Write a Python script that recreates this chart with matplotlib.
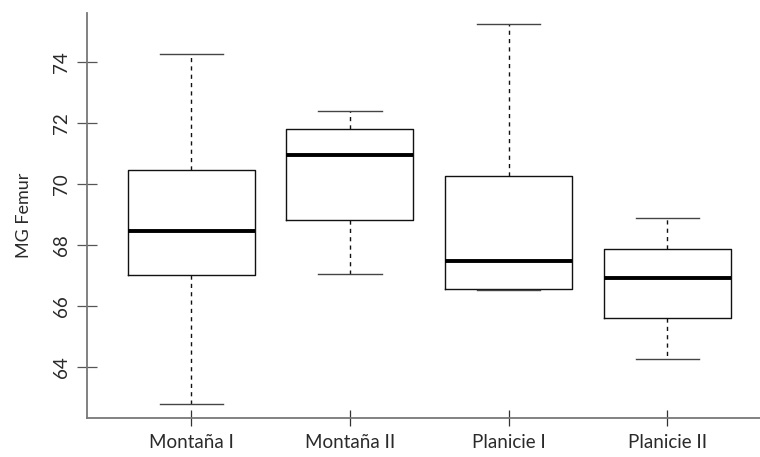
import matplotlib
matplotlib.use("Agg")
import matplotlib.pyplot as plt

plt.rcParams['font.family'] = ['Lato', 'DejaVu Sans']

# Five-number summaries of MG Femur per group
groups = ["Montaña I", "Montaña II", "Planicie I", "Planicie II"]
whisker_low = [62.78, 67.04, 66.51, 64.27]
q1 = [67.01, 68.82, 66.55, 65.60]
median = [68.46, 70.94, 67.48, 66.91]
q3 = [70.46, 71.81, 70.26, 67.88]
whisker_high = [74.24, 72.40, 75.23, 68.89]
y_ticks = [64, 66, 68, 70, 72, 74]

stats = [
    dict(label=g, whislo=lo, q1=a, med=m, q3=b, whishi=hi, fliers=[])
    for g, lo, a, m, b, hi in zip(groups, whisker_low, q1, median, q3, whisker_high)
]

fig = plt.figure(figsize=(7.6, 4.57), dpi=100)
ax = fig.add_axes([86.7 / 760, 39.3 / 457, 685.3 / 760, 404.4 / 457])

positions = list(range(1, len(groups) + 1))
ax.bxp(
    stats,
    positions=positions,
    widths=0.8,
    capwidths=0.4,
    showfliers=False,
    boxprops=dict(color="#111111", linewidth=1.0),
    medianprops=dict(color="#000000", linewidth=2.8, solid_capstyle="butt"),
    whiskerprops=dict(color="#111111", linewidth=1.0, linestyle=(0, (3, 3))),
    capprops=dict(color="#444444", linewidth=1.0),
)

ax.set_xlim(0.341, 4.66)
ax.set_ylim(62.34, 75.585)

ax.set_xticks(positions)
ax.set_xticklabels(groups)
ax.set_yticks(y_ticks)
ax.set_yticklabels([str(t) for t in y_ticks], rotation=90, va="center")

for side in ("top", "right"):
    ax.spines[side].set_visible(False)
for side in ("left", "bottom"):
    ax.spines[side].set_color("#777777")
    ax.spines[side].set_linewidth(1.3)

ax.tick_params(axis="x", direction="inout", length=11.5, width=0.9,
               color="#333333", labelsize=13.5, labelcolor="#2a2a2a", pad=6)
ax.tick_params(axis="y", direction="inout", length=14, width=0.9,
               color="#555555", labelsize=13.5, labelcolor="#2a2a2a", pad=5)

ax.set_ylabel("MG Femur", fontsize=13, color="#2a2a2a", labelpad=15)

fig.savefig("out.png", dpi=100)
